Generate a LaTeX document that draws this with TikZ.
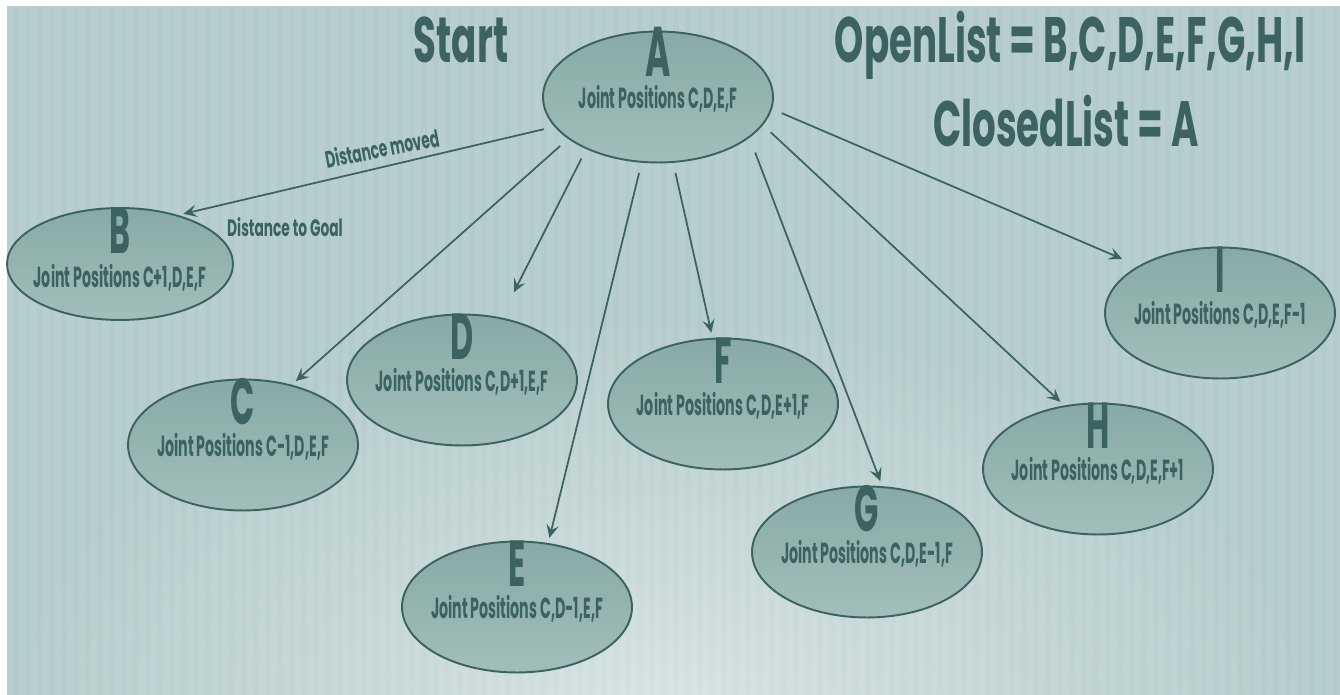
\documentclass[tikz,border=0pt]{standalone}
\usepackage{fontspec}
\setmainfont{Poppins}[FakeStretch=0.49]
\newfontfamily\headfont{Poppins}[FakeStretch=0.58]
\usetikzlibrary{shapes.geometric,arrows.meta}

\definecolor{ink}{HTML}{3C6262}
\definecolor{bgcol}{HTML}{B4CBCB}
\definecolor{bglight}{HTML}{D6E3E2}
\definecolor{nodetop}{HTML}{88AAA6}
\definecolor{nodebot}{HTML}{A2BEBA}

\tikzset{
  state/.style={ellipse, draw=ink, line width=1.1pt, top color=nodetop, bottom color=nodebot,
    minimum width=4.6cm, minimum height=2.62cm, inner sep=0pt},
  letter/.style={inner sep=0pt, yshift=-0.93cm, text=ink, font=\bfseries\fontsize{37}{40}\selectfont},
  joints/.style={inner sep=0pt, yshift=-0.04cm, text=ink, font=\bfseries\fontsize{16.5}{18}\selectfont},
  title/.style={inner sep=0pt, anchor=base, text=ink, font=\headfont\bfseries\fontsize{36.5}{40}\selectfont},
  note/.style={inner sep=0pt, text=ink, font=\headfont\bfseries\fontsize{13.5}{15}\selectfont},
  move/.style={->, draw=ink, line width=1pt, shorten <=6pt, shorten >=3pt}
}

\begin{document}
\begin{tikzpicture}[x=0.02cm, y=-0.02cm, >={Stealth[length=7.5pt,width=7pt,inset=3pt]}]
  \useasboundingbox (0,0) rectangle (1340,695);
  % background
  \fill[white] (0,0) rectangle (1340,695);
  \fill[bgcol] (7,6) rectangle (1340,695);
  \begin{scope}
    \clip (7,6) rectangle (1340,695);
    \shade[inner color=bglight, outer color=bgcol] (660,720) ellipse [x radius=13cm, y radius=8cm];
    \foreach \x in {7,19,...,1340}
      \fill[white, opacity=0.07] (\x,6) rectangle +(6,689);
  \end{scope}

  % headings
  \node[title] (start) at (461,63) {Start};
  \node[title] (open) at (1070,63) {OpenList = B,C,D,E,F,G,H,I};
  \node[title] (closed) at (1066,147) {ClosedList = A};

  % states
  \node[state, label={[letter, font=\bfseries\fontsize{40}{42}\selectfont]above:A},
    label={[joints]center:Joint Positions C,D,E,F}] (A) at (658,97) {};
  \node[state, minimum width=4.52cm, minimum height=2.24cm, label={[letter]above:B},
    label={[joints, yshift=-0.24cm]center:Joint Positions C+1,D,E,F}] (B) at (120,264) {};
  \node[state, label={[letter]above:C}, label={[joints]center:Joint Positions C-1,D,E,F}] (C) at (243,445) {};
  \node[state, label={[letter]above:D}, label={[joints]center:Joint Positions C,D+1,E,F}] (D) at (462,380) {};
  \node[state, label={[letter]above:E}, label={[joints]center:Joint Positions C,D-1,E,F}] (E) at (517,607) {};
  \node[state, label={[letter]above:F}, label={[joints]center:Joint Positions C,D,E+1,F}] (F) at (723,404) {};
  \node[state, label={[letter]above:G}, label={[joints]center:Joint Positions C,D,E-1,F}] (G) at (867,552) {};
  \node[state, label={[letter]above:H}, label={[joints]center:Joint Positions C,D,E,F+1}] (H) at (1098,469) {};
  \node[state, label={[letter]above:I}, label={[joints]center:Joint Positions C,D,E,F-1}] (I) at (1220,313) {};

  % moves
  \draw[move] (A.196) -- (B.40);
  \draw[move] (A.205.6) -- (C.51);
  \draw[move, shorten >=16pt] (A.216.9) -- (D.58.8);
  \draw[move] (A.256.9) -- (E.64.4);
  \draw[move] (A.283.3) -- (F.99.7);
  \draw[move, shorten <=9pt] (A.336.7) -- (G.77);
  \draw[move] (A.345) -- (H.118.4);
  \draw[move, shorten >=10pt] (A.354) -- (I.150.4);

  \node[note, rotate=11] (moved) at (382,148) {Distance moved};
  \node[note, anchor=base] (goal) at (285,237) {Distance to Goal};
\end{tikzpicture}
\end{document}
